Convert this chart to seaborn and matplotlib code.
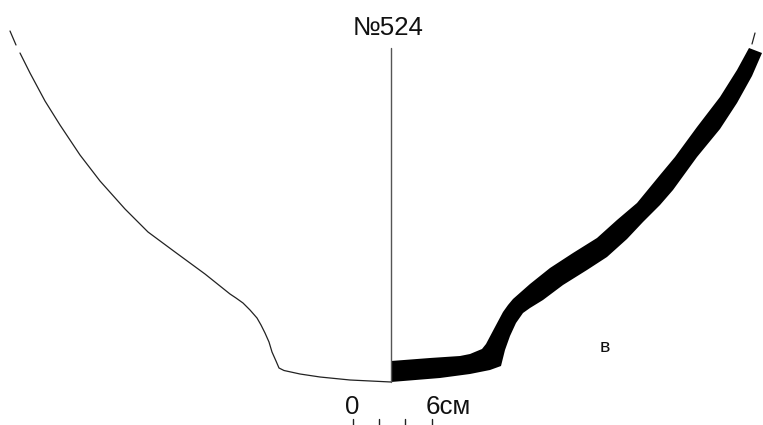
import matplotlib
matplotlib.use("Agg")
import matplotlib.pyplot as plt
import pandas as pd
import seaborn as sns

# profile of the vessel in pixels
outer_x = [20, 30, 45, 60, 80, 100, 125, 148, 175, 205, 230, 236, 243, 250, 257, 261, 265, 269, 272, 276, 279,
           284, 300, 320, 350, 391]
outer_y = [53, 73, 101, 125, 155, 181, 209, 232, 252, 274, 294, 298, 303, 310, 318, 325, 333, 342, 352, 361, 368,
           370.5, 374, 377, 380, 382]

rim_left_x = [10, 16]
rim_left_y = [31, 45]
rim_right_x = [752, 755]
rim_right_y = [44, 33]

axis_x = [391, 391]
axis_y = [48, 382]

# section of the wall: upper edge then back along the lower edge
section_x = [391, 430, 460, 470, 482, 486, 495, 503, 508, 513, 530, 550, 573, 597, 617, 637, 660, 675, 697, 720, 737, 749,
             762, 752, 737, 720, 697, 673, 660, 643, 627, 607, 587, 563, 543, 530, 523, 516, 510, 505, 501, 490, 470, 440, 391]
section_y = [361, 358, 356, 354, 349, 344, 327, 312, 305, 299, 284, 268, 253, 238, 220, 203, 175, 157, 127, 97, 70, 48,
             53, 76, 103, 129, 157, 190, 205, 222, 239, 257, 270, 285, 300, 308, 313, 323, 336, 350, 366, 370, 374, 378, 382]

scale_ticks = [353, 379, 405, 432]

sns.set_style("white")
plt.rcParams["font.family"] = ["Liberation Sans", "DejaVu Sans"]

fig, ax = plt.subplots(figsize=(7.63, 4.25), dpi=100)
ax.set_position([0, 0, 1, 1])


def draw(xs, ys, color="#222222", lw=0.9):
    df = pd.DataFrame({"x": xs, "y": ys})
    sns.lineplot(data=df, x="x", y="y", sort=False, estimator=None, color=color, linewidth=lw, ax=ax)


draw(outer_x, outer_y)
draw(rim_left_x, rim_left_y)
draw(rim_right_x, rim_right_y)
draw(axis_x, axis_y, color="#555555", lw=1.0)
ax.fill(section_x, section_y, color="black", linewidth=0)

for t in scale_ticks:
    draw([t, t], [419, 425], lw=1.0)

ax.text(388, 28, "№524", fontsize=18.6, ha="center", va="center", color="#111111")
ax.text(352, 407, "0", fontsize=18.6, ha="center", va="center", color="#111111")
ax.text(448, 407, "6см", fontsize=18.6, ha="center", va="center", color="#111111")
ax.text(605, 347, "в", fontsize=14, ha="center", va="center", color="#111111")

ax.set_xlim(0, 763)
ax.set_ylim(425, 0)
ax.axis("off")

fig.savefig("out.png", dpi=100)
